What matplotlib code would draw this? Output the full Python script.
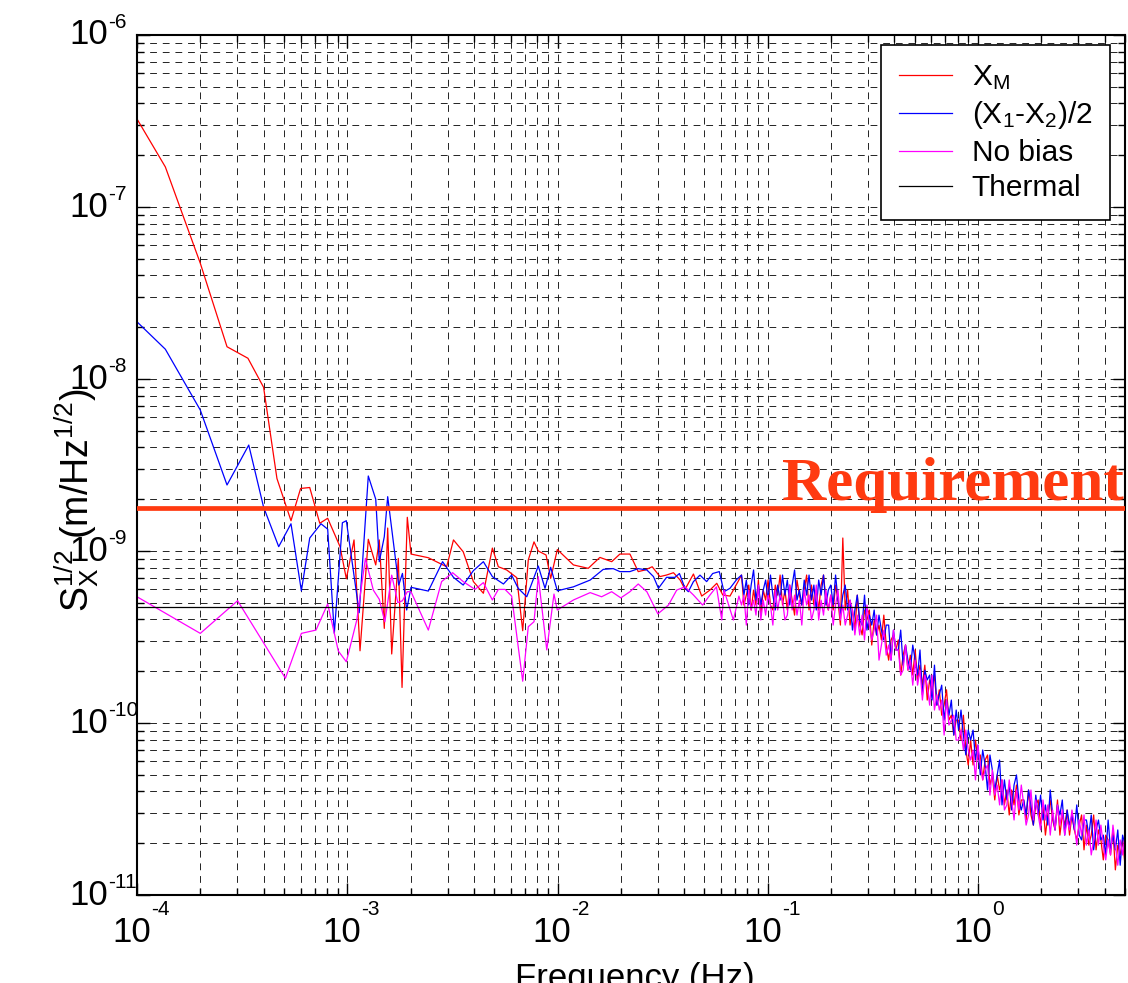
import matplotlib
matplotlib.use('Agg')
import matplotlib.pyplot as plt
import matplotlib.transforms as mtransforms
import numpy as np
from matplotlib.ticker import LogLocator, NullFormatter

plt.rcParams['font.family'] = ['Liberation Sans', 'DejaVu Sans']
plt.rcParams['mathtext.fontset'] = 'custom'
plt.rcParams['mathtext.rm'] = 'Liberation Sans'
plt.rcParams['mathtext.it'] = 'Liberation Sans:italic'
plt.rcParams['mathtext.bf'] = 'Liberation Sans:bold'
plt.rcParams['axes.unicode_minus'] = False

# ---------------- data (values in units of 1e-10 m/Hz^1/2) ----------------
UNIT = 1e-10

red_f_lo = [1.0e-4, 1.364e-4, 2.0e-4, 2.68e-4, 3.37e-4, 4.0e-4, 4.63e-4, 5.4e-4, 6.0e-4, 6.63e-4,
            7.4e-4, 8.07e-4, 9.24e-4, 9.9e-4, 1.077e-3, 1.15e-3, 1.259e-3, 1.366e-3, 1.42e-3, 1.50e-3,
            1.557e-3, 1.627e-3, 1.749e-3, 1.822e-3, 1.93e-3, 2.01e-3, 2.43e-3, 2.97e-3, 3.2e-3, 3.56e-3,
            3.98e-3, 4.44e-3, 4.9e-3, 5.23e-3, 5.73e-3, 6.4e-3, 6.83e-3, 7.26e-3, 7.73e-3, 8.1e-3,
            8.82e-3, 9.28e-3, 9.98e-3, 1.19e-2, 1.4e-2, 1.59e-2, 1.81e-2, 1.98e-2, 2.21e-2, 2.42e-2,
            2.61e-2, 2.82e-2, 3.07e-2, 3.3e-2, 3.56e-2, 3.83e-2, 4.04e-2, 4.43e-2, 4.85e-2, 5.31e-2,
            5.72e-2, 6.11e-2, 6.61e-2, 7.2e-2]
red_v_lo = [3250, 1710, 471, 154, 132, 89.5, 26.4, 15.0, 23.1, 23.4,
            14.5, 15.5, 10.6, 6.9, 11.6, 2.63, 11.7, 8.3, 11.6, 3.55,
            13.6, 2.52, 9.06, 1.61, 15.7, 9.6, 9.14, 8.1, 11.6, 9.9,
            6.64, 5.68, 10.4, 8.1, 7.76, 7.0, 3.44, 8.87, 11.3, 10.0,
            9.48, 6.93, 10.2, 8.3, 7.93, 9.18, 8.67, 9.6, 9.6, 7.59,
            7.76, 8.1, 7.1, 7.25, 7.48, 6.78, 5.98, 7.35, 5.47, 5.93,
            6.49, 5.55, 5.47, 6.6]

blue_f_lo = [1.0e-4, 1.364e-4, 2.0e-4, 2.68e-4, 3.4e-4, 4.0e-4, 4.72e-4, 5.4e-4, 6.05e-4, 6.63e-4,
             7.5e-4, 8.07e-4, 8.68e-4, 9.48e-4, 9.9e-4, 1.14e-3, 1.259e-3, 1.366e-3, 1.42e-3, 1.5e-3,
             1.557e-3, 1.757e-3, 1.83e-3, 1.917e-3, 2.01e-3, 2.43e-3, 2.84e-3, 3.2e-3, 3.56e-3, 3.98e-3,
             4.44e-3, 4.9e-3, 5.53e-3, 6.05e-3, 6.5e-3, 7.14e-3, 8.1e-3, 8.72e-3, 9.28e-3, 9.98e-3,
             1.19e-2, 1.43e-2, 1.65e-2, 1.84e-2, 1.98e-2, 2.21e-2, 2.42e-2, 2.66e-2, 2.86e-2, 3.02e-2,
             3.3e-2, 3.62e-2, 3.8e-2, 4.04e-2, 4.19e-2, 4.43e-2, 4.76e-2, 5.12e-2, 5.47e-2, 5.88e-2,
             6.19e-2, 6.61e-2, 7.12e-2]
blue_v_lo = [215, 149, 66, 24.2, 41.3, 18.0, 10.6, 14.4, 5.87, 11.9,
             14.4, 13.4, 3.32, 14.6, 15.0, 4.38, 27.3, 20.0, 8.67, 12.1,
             20.7, 6.34, 7.41, 4.54, 6.15, 5.85, 8.67, 7.03, 6.34, 7.69,
             8.67, 7.1, 6.43, 7.24, 6.07, 5.42, 8.18, 6.07, 8.04, 5.87,
             6.19, 6.78, 7.82, 7.9, 7.59, 7.59, 7.9, 7.76, 7.1, 6.07,
             7.03, 7.03, 7.4, 6.07, 5.8, 6.64, 7.24, 6.64, 7.4, 7.59,
             5.8, 6.07, 6.84]

mag_f_lo = [1.0e-4, 2.0e-4, 3.01e-4, 5.08e-4, 6.05e-4, 7.1e-4, 8.07e-4, 9.07e-4, 9.9e-4, 1.11e-3,
            1.22e-3, 1.33e-3, 1.42e-3, 1.51e-3, 1.627e-3, 1.74e-3, 1.83e-3, 1.93e-3, 2.01e-3, 2.43e-3,
            2.81e-3, 3.17e-3, 3.56e-3, 4.05e-3, 4.44e-3, 4.9e-3, 5.23e-3, 5.63e-3, 6.05e-3, 6.83e-3,
            7.26e-3, 7.73e-3, 8.1e-3, 8.89e-3, 9.62e-3, 9.98e-3, 1.19e-2, 1.43e-2, 1.62e-2, 1.81e-2,
            2.0e-2, 2.21e-2, 2.42e-2, 2.66e-2, 3.0e-2, 3.37e-2, 3.69e-2, 4.04e-2, 4.43e-2, 4.9e-2,
            5.31e-2, 5.7e-2, 6.04e-2, 6.19e-2, 6.86e-2, 7.29e-2]
mag_v_lo = [5.42, 3.32, 5.14, 1.82, 3.32, 3.47, 4.92, 2.62, 2.27, 3.97,
            9.06, 5.93, 5.24, 3.88, 7.24, 5.01, 5.14, 5.8, 5.8, 3.47,
            6.64, 7.48, 6.64, 5.98, 6.55, 5.19, 5.98, 5.98, 5.47, 1.75,
            3.63, 3.88, 7.1, 2.66, 5.62, 4.54, 5.19, 5.73, 5.42, 5.8,
            5.34, 5.8, 6.43, 5.8, 4.31, 4.85, 5.93, 6.19, 5.55, 4.85,
            5.55, 6.19, 3.97, 5.93, 3.97, 5.47]

# dense high-frequency part, read on a log-spaced frequency grid 0.075 .. 5 Hz
red_hi = [7.25, 4.85, 5.54, 6.34, 4.54, 5.93, 4.85, 6.78, 4.24, 5.93,
          5.18, 6.78, 4.85, 4.54, 6.34, 5.54, 7.25, 4.85, 5.93, 4.54,
          6.34, 5.18, 4.24, 6.78, 5.54, 4.85, 5.93, 7.25, 4.54, 6.34,
          4.85, 5.93, 4.54, 6.34, 7.25, 5.18, 4.54, 5.54, 4.54, 6.34,
          5.18, 3.71, 11.9, 4.54, 5.93, 3.71, 4.54, 3.47, 5.54, 3.71,
          3.25, 4.54, 3.97, 4.54, 2.84, 3.97, 3.25, 3.71, 3.04, 4.24,
          2.84, 2.32, 3.04, 3.25, 2.66, 3.04, 1.90, 2.48, 2.84, 2.03,
          2.48, 1.90, 2.66, 1.78, 2.17, 1.66, 2.17, 1.36, 1.78, 1.56,
          1.90, 1.27, 1.56, 1.11, 1.27, 1.56, 1.04, 1.11, 0.851, 1.04,
          1.04, 0.796, 1.11, 0.697, 0.57, 0.796, 0.57, 0.796, 0.609, 0.652,
          0.467, 0.609, 0.652, 0.436, 0.499, 0.357, 0.499, 0.408, 0.467, 0.334,
          0.408, 0.292, 0.408, 0.334, 0.436, 0.292, 0.357, 0.357, 0.273, 0.408,
          0.292, 0.255, 0.334, 0.357, 0.255, 0.334, 0.223, 0.292, 0.357, 0.273,
          0.239, 0.357, 0.223, 0.292, 0.255, 0.312, 0.223, 0.292, 0.239, 0.209,
          0.255, 0.292, 0.183, 0.255, 0.195, 0.223, 0.292, 0.183, 0.239, 0.209,
          0.160, 0.223, 0.209, 0.171, 0.239, 0.140, 0.195, 0.171, 0.209, 0.149]
blue_hi = [7.25, 5.54, 6.78, 4.85, 6.34, 7.76, 5.18, 6.34, 4.85, 5.93,
           6.78, 5.18, 7.25, 5.54, 4.54, 6.34, 5.18, 7.25, 5.54, 6.78,
           4.85, 6.34, 7.76, 5.18, 5.93, 4.85, 6.78, 5.54, 7.25, 5.18,
           6.34, 4.54, 6.78, 5.54, 7.25, 4.85, 5.93, 6.34, 4.85, 7.25,
           5.18, 4.24, 5.54, 6.34, 4.54, 5.18, 3.47, 4.54, 5.54, 3.97,
           3.71, 5.54, 3.47, 4.24, 3.71, 4.54, 3.25, 4.24, 3.47, 3.04,
           3.71, 3.71, 2.32, 3.47, 2.66, 2.66, 3.47, 2.17, 2.84, 2.32,
           2.03, 2.84, 2.32, 1.90, 2.66, 1.46, 2.03, 1.78, 1.90, 1.36,
           2.17, 1.27, 1.46, 1.66, 1.04, 1.36, 1.11, 1.36, 0.851, 1.19,
           0.91, 1.19, 0.851, 0.652, 0.91, 0.796, 0.91, 0.609, 0.745, 0.499,
           0.697, 0.57, 0.408, 0.652, 0.533, 0.408, 0.499, 0.609, 0.334, 0.467,
           0.357, 0.436, 0.312, 0.436, 0.499, 0.357, 0.312, 0.357, 0.292, 0.408,
           0.334, 0.255, 0.381, 0.292, 0.381, 0.273, 0.334, 0.255, 0.408, 0.292,
           0.239, 0.334, 0.292, 0.357, 0.223, 0.312, 0.255, 0.292, 0.239, 0.334,
           0.223, 0.209, 0.273, 0.273, 0.223, 0.292, 0.183, 0.239, 0.273, 0.209,
           0.223, 0.171, 0.273, 0.183, 0.223, 0.183, 0.239, 0.149, 0.223, 0.195]
mag_hi = [4.85, 5.54, 3.71, 5.93, 4.54, 5.18, 4.24, 6.34, 3.97, 5.18,
          4.24, 5.54, 4.85, 3.71, 5.93, 4.54, 5.54, 5.18, 3.97, 4.24,
          6.34, 4.54, 5.54, 4.24, 5.18, 3.71, 5.93, 4.85, 5.54, 3.97,
          4.54, 6.34, 3.97, 5.18, 4.24, 5.93, 4.54, 5.54, 3.71, 4.85,
          5.93, 3.97, 4.85, 3.71, 4.24, 5.18, 4.54, 3.25, 4.24, 3.25,
          4.24, 3.04, 4.85, 3.71, 3.04, 3.47, 4.24, 2.32, 2.84, 3.47,
          2.48, 2.84, 2.32, 3.47, 2.66, 2.66, 1.90, 2.03, 2.84, 2.03,
          2.32, 1.66, 2.32, 1.66, 2.03, 1.36, 1.90, 1.66, 1.27, 1.90,
          1.19, 1.46, 1.19, 1.36, 0.851, 1.36, 0.973, 1.04, 1.11, 0.796,
          0.796, 0.91, 0.697, 0.91, 0.697, 0.609, 0.697, 0.467, 0.745, 0.57,
          0.467, 0.533, 0.57, 0.381, 0.533, 0.381, 0.436, 0.334, 0.467, 0.312,
          0.334, 0.467, 0.357, 0.273, 0.408, 0.312, 0.436, 0.334, 0.255, 0.292,
          0.408, 0.273, 0.357, 0.292, 0.239, 0.357, 0.273, 0.334, 0.223, 0.312,
          0.239, 0.334, 0.255, 0.312, 0.223, 0.273, 0.239, 0.312, 0.255, 0.195,
          0.273, 0.223, 0.292, 0.195, 0.239, 0.171, 0.209, 0.273, 0.195, 0.255,
          0.195, 0.160, 0.209, 0.171, 0.255, 0.195, 0.149, 0.209, 0.171, 0.223]
f_hi_start, f_hi_end = 0.075, 5.0

thermal = 4.7      # x1e-10
requirement = 17.7 # x1e-10

x_exponents = [-4, -3, -2, -1, 0]
y_exponents = [-11, -10, -9, -8, -7, -6]

labels = [r'X$_\mathregular{M}$', r'(X$_\mathregular{1}$-X$_\mathregular{2}$)/2', 'No bias', 'Thermal']
colors = ['#FF0000', '#0000FF', '#FF00FF', '#000000']
REQ_COLOR = '#FF3A10'

# ---------------- plotting ----------------
fig = plt.figure(figsize=(11.28, 9.83), dpi=100)
ax = fig.add_axes([0.12145, 0.0895, 0.8759, 0.8749])

f_hi = np.geomspace(f_hi_start, f_hi_end, len(red_hi))
series = [(red_f_lo, red_v_lo, red_hi), (blue_f_lo, blue_v_lo, blue_hi), (mag_f_lo, mag_v_lo, mag_hi)]
for (flo, vlo, vhi), c, lab in zip(series, colors[:3], labels[:3]):
    ff = np.concatenate([flo, f_hi])
    vv = np.concatenate([vlo, vhi]) * UNIT
    ax.loglog(ff, vv, color=c, lw=0.9, label=lab)

ax.axhline(thermal * UNIT, color=colors[3], lw=0.9, label=labels[3])
ax.axhline(requirement * UNIT, color=REQ_COLOR, lw=3.4, zorder=6)

ax.set_xlim(1e-4, 5.0)
ax.set_ylim(1e-11, 1e-6)

trans_y = mtransforms.blended_transform_factory(ax.transAxes, ax.transData)
trans_x = mtransforms.blended_transform_factory(ax.transData, ax.transAxes)
ax.text(0.999, requirement * UNIT * 1.12, 'Requirement', transform=trans_y, ha='right', va='baseline',
        fontfamily='Liberation Serif', fontweight='bold', fontsize=44, color=REQ_COLOR, zorder=7)

ax.xaxis.set_major_locator(LogLocator(base=10, numticks=20))
ax.xaxis.set_minor_locator(LogLocator(base=10, subs=np.arange(2, 10), numticks=200))
ax.yaxis.set_major_locator(LogLocator(base=10, numticks=20))
ax.yaxis.set_minor_locator(LogLocator(base=10, subs=np.arange(2, 10), numticks=200))
for axis in (ax.xaxis, ax.yaxis):
    axis.set_major_formatter(NullFormatter())
    axis.set_minor_formatter(NullFormatter())

ax.grid(True, which='both', linestyle=(0, (7, 6)), color='#222222', linewidth=0.7)
ax.tick_params(which='both', direction='in', top=True, right=True, width=1.0)
ax.tick_params(which='major', length=9)
ax.tick_params(which='minor', length=5)
for s in ax.spines.values():
    s.set_linewidth(1.5)

# MATLAB-style tick labels: "10" with a small exponent
for e in y_exponents:
    ax.annotate('10', xy=(0, 10.0 ** e), xycoords=trans_y, xytext=(-21, 0), textcoords='offset points',
                ha='right', va='center', fontsize=25, annotation_clip=False)
    ax.annotate('%d' % e, xy=(0, 10.0 ** e), xycoords=trans_y, xytext=(-21, 5), textcoords='offset points',
                ha='left', va='baseline', fontsize=15, annotation_clip=False)
for e in x_exponents:
    ax.annotate('10', xy=(10.0 ** e, 0), xycoords=trans_x, xytext=(10, -15), textcoords='offset points',
                ha='right', va='top', fontsize=25, annotation_clip=False)
    ax.annotate('%d' % e, xy=(10.0 ** e, 0), xycoords=trans_x, xytext=(10, -14.5), textcoords='offset points',
                ha='left', va='baseline', fontsize=15, annotation_clip=False)

ax.set_xlabel('Frequency (Hz)', fontsize=25)
ax.xaxis.set_label_coords(0.504, -0.078)
ax.set_ylabel(r'S$_\mathregular{X}^\mathregular{1/2}$ (m/Hz$^\mathregular{1/2}$)', fontsize=27)
ax.yaxis.set_label_coords(-0.036, 0.459)

leg = ax.legend(loc='upper right', bbox_to_anchor=(0.985, 0.988), fontsize=21.5, frameon=True,
                fancybox=False, edgecolor='k', framealpha=1, borderaxespad=0,
                handlelength=1.8, handletextpad=0.65, labelspacing=0.25, borderpad=0.6)
leg.get_frame().set_linewidth(1.2)
leg.set_zorder(10)

fig.savefig('out.png', dpi=100)
